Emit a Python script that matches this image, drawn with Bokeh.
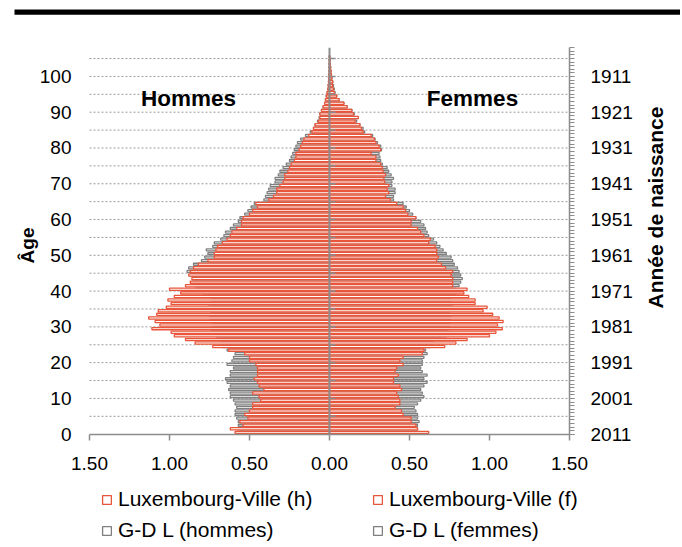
import math
from bokeh.plotting import figure
from bokeh.models import (Range1d, LinearAxis, FixedTicker, CustomJSTickFormatter,
                          Label, Legend, LegendItem, ColumnDataSource, BoxAnnotation)
from bokeh.embed import file_html
from bokeh.resources import INLINE

# ---------------- data (share of population, %) ----------------
ages = list(range(0, 106))

lv_h = [0.59, 0.62, 0.54, 0.56, 0.51, 0.53, 0.50, 0.48, 0.48, 0.43,
        0.44, 0.48, 0.41, 0.44, 0.45, 0.47, 0.45, 0.45, 0.45, 0.46,
        0.50, 0.50, 0.53, 0.63, 0.73, 0.84, 0.90, 0.97, 0.99, 1.11,
        1.06, 1.09, 1.13, 1.08, 1.07, 1.02, 0.99, 1.01, 0.97, 0.93,
        1.00, 0.90, 0.87, 0.86, 0.88, 0.87, 0.85, 0.82, 0.76, 0.72,
        0.72, 0.71, 0.70, 0.67, 0.64, 0.62, 0.61, 0.58, 0.55, 0.55,
        0.54, 0.50, 0.48, 0.45, 0.46, 0.38, 0.35, 0.33, 0.33, 0.31,
        0.29, 0.28, 0.28, 0.26, 0.25, 0.24, 0.22, 0.21, 0.21, 0.19,
        0.18, 0.17, 0.16, 0.13, 0.11, 0.10, 0.09, 0.07, 0.06, 0.06,
        0.05, 0.04, 0.03, 0.025, 0.02, 0.015, 0.01, 0.008, 0.006, 0.005,
        0.004, 0.003, 0.002, 0.002, 0.001, 0.001]

lv_f = [0.62, 0.55, 0.54, 0.51, 0.51, 0.46, 0.45, 0.41, 0.44, 0.44,
        0.43, 0.42, 0.45, 0.44, 0.40, 0.40, 0.43, 0.41, 0.42, 0.46,
        0.44, 0.46, 0.58, 0.59, 0.72, 0.79, 0.86, 1.00, 1.04, 1.08,
        1.05, 1.085, 1.06, 1.02, 0.96, 0.985, 0.91, 0.91, 0.87, 0.84,
        0.86, 0.77, 0.77, 0.77, 0.76, 0.77, 0.725, 0.70, 0.67, 0.68,
        0.67, 0.67, 0.66, 0.62, 0.63, 0.59, 0.57, 0.55, 0.51, 0.51,
        0.54, 0.49, 0.475, 0.46, 0.42, 0.38, 0.35, 0.37, 0.36, 0.37,
        0.345, 0.34, 0.35, 0.335, 0.33, 0.32, 0.29, 0.29, 0.26, 0.32,
        0.31, 0.29, 0.28, 0.26, 0.21, 0.20, 0.19, 0.16, 0.18, 0.15,
        0.14, 0.11, 0.09, 0.06, 0.045, 0.03, 0.025, 0.02, 0.02, 0.015,
        0.012, 0.01, 0.007, 0.005, 0.003, 0.002]

gdl_h = [0.58, 0.57, 0.57, 0.57, 0.58, 0.59, 0.59, 0.58, 0.59, 0.60,
         0.62, 0.62, 0.63, 0.62, 0.64, 0.65, 0.62, 0.62, 0.60, 0.64,
         0.61, 0.60, 0.59, 0.64, 0.67, 0.68, 0.70, 0.71, 0.74, 0.74,
         0.73, 0.73, 0.75, 0.75, 0.74, 0.76, 0.74, 0.74, 0.76, 0.79,
         0.83, 0.84, 0.86, 0.85, 0.87, 0.89, 0.88, 0.85, 0.80, 0.78,
         0.76, 0.77, 0.73, 0.72, 0.68, 0.66, 0.65, 0.62, 0.60, 0.57,
         0.56, 0.53, 0.51, 0.49, 0.47, 0.41, 0.40, 0.39, 0.38, 0.37,
         0.34, 0.34, 0.32, 0.31, 0.29, 0.27, 0.25, 0.24, 0.23, 0.22,
         0.21, 0.20, 0.18, 0.15, 0.12, 0.10, 0.09, 0.075, 0.065, 0.06,
         0.05, 0.04, 0.03, 0.025, 0.02, 0.015, 0.01, 0.008, 0.006, 0.005,
         0.004, 0.003, 0.002, 0.002, 0.001, 0.001]

gdl_f = [0.56, 0.55, 0.55, 0.56, 0.55, 0.55, 0.54, 0.53, 0.55, 0.57,
         0.59, 0.58, 0.57, 0.59, 0.61, 0.59, 0.61, 0.58, 0.57, 0.58,
         0.58, 0.59, 0.61, 0.60, 0.63, 0.65, 0.69, 0.73, 0.74, 0.75,
         0.75, 0.76, 0.76, 0.76, 0.75, 0.77, 0.76, 0.76, 0.80, 0.79,
         0.79, 0.81, 0.82, 0.83, 0.82, 0.81, 0.80, 0.78, 0.77, 0.76,
         0.73, 0.71, 0.69, 0.67, 0.65, 0.62, 0.61, 0.60, 0.59, 0.57,
         0.54, 0.52, 0.50, 0.48, 0.46, 0.40, 0.40, 0.41, 0.41, 0.39,
         0.39, 0.40, 0.385, 0.37, 0.36, 0.33, 0.32, 0.315, 0.31, 0.325,
         0.32, 0.30, 0.285, 0.27, 0.22, 0.21, 0.19, 0.17, 0.18, 0.155,
         0.14, 0.11, 0.09, 0.06, 0.045, 0.035, 0.03, 0.025, 0.02, 0.015,
         0.012, 0.01, 0.007, 0.005, 0.003, 0.002]

x_ticks = [-1.5, -1.0, -0.5, 0.0, 0.5, 1.0, 1.5]
age_ticks = list(range(0, 101, 10))
grid_ages = list(range(5, 106, 5))
ref_year = 2011
birth_ticks = [ref_year - a for a in age_ticks]

series_labels = ["Luxembourg-Ville (h)", "Luxembourg-Ville (f)", "G-D L (hommes)", "G-D L (femmes)"]

# ---------------- geometry / styling ----------------
W, H = 680, 545
X_MIN, X_MAX = -1.5, 1.5          # plotted value range
Y_MIN, Y_TOP = 0, 108             # plotted age range
PX_LEFT, PX_RIGHT = 89, 569       # pixel span of the value range
PY_BOTTOM, PY_TOP = 433.7, 47.3   # pixel span of the age range

sx = (PX_RIGHT - PX_LEFT) / (X_MAX - X_MIN)
sy = (PY_BOTTOM - PY_TOP) / (Y_TOP - Y_MIN)
def vx(px):  # pixel -> data x
    return X_MIN + (px - PX_LEFT) / sx
def vy(py):  # pixel -> data y
    return Y_MIN + (PY_BOTTOM - py) / sy

RED = "#E8553A"
GREY = "#7F7F7F"
AXIS = "#8C8C8C"
FONT = "Liberation Sans"

p = figure(width=W, height=H, x_range=Range1d(vx(0), vx(W)), y_range=Range1d(vy(H), vy(0)),
           output_backend="svg", toolbar_location=None, min_border=0)
p.title.visible = False
p.outline_line_color = None
p.xgrid.visible = False
p.ygrid.visible = False

# dotted horizontal grid
p.segment(x0=[X_MIN] * len(grid_ages), x1=[X_MAX] * len(grid_ages), y0=grid_ages, y1=grid_ages,
          line_color="#9A9A9A", line_dash="2 2", line_width=1)

def src(vals, sign):
    return ColumnDataSource(dict(
        y=[a + 0.5 for a in ages],
        left=[min(0, sign * v) for v in vals],
        right=[max(0, sign * v) for v in vals]))

grey_style = dict(y="y", left="left", right="right", height=0.56, fill_color="white", line_width=1.3)
red_style = dict(y="y", left="left", right="right", height=0.62, fill_color="white", line_width=1.3)
r_gh = p.hbar(source=src(gdl_h, -1), line_color=GREY, **grey_style)
r_gf = p.hbar(source=src(gdl_f, 1), line_color=GREY, **grey_style)
r_lh = p.hbar(source=src(lv_h, -1), line_color=RED, **red_style)
r_lf = p.hbar(source=src(lv_f, 1), line_color=RED, **red_style)

# central vertical axis with small ticks
p.segment(x0=[0], x1=[0], y0=[Y_MIN], y1=[Y_TOP], line_color=AXIS, line_width=2)
p.segment(x0=[0] * len(grid_ages), x1=[6 / sx] * len(grid_ages), y0=grid_ages, y1=grid_ages,
          line_color=AXIS, line_width=1.5)

# bottom axis
xa = p.xaxis[0]
xa.fixed_location = Y_MIN
xa.bounds = (X_MIN, X_MAX)
xa.ticker = FixedTicker(ticks=x_ticks)
xa.formatter = CustomJSTickFormatter(code="return Math.abs(tick).toFixed(2);")
xa.axis_line_color = AXIS
xa.axis_line_width = 1.5
xa.major_tick_line_color = AXIS
xa.major_tick_line_width = 1.5
xa.major_tick_out = 6
xa.major_tick_in = 0
xa.minor_tick_line_color = None
xa.major_label_standoff = 17
xa.major_label_text_font = FONT
xa.major_label_text_font_size = "19px"
xa.major_label_text_color = "#000000"

# left axis (age)
ya = p.yaxis[0]
ya.fixed_location = X_MIN
ya.bounds = (Y_MIN, Y_TOP)
ya.ticker = FixedTicker(ticks=age_ticks)
ya.axis_line_color = None
ya.major_tick_line_color = None
ya.minor_tick_line_color = None
ya.major_tick_out = 0
ya.major_label_standoff = 18
ya.major_label_text_font = FONT
ya.major_label_text_font_size = "19px"
ya.major_label_text_color = "#000000"

# right axis (birth year)
p.extra_y_ranges = {"birth": Range1d(start=ref_year - vy(H), end=ref_year - vy(0))}
ra = LinearAxis(y_range_name="birth", fixed_location=X_MAX,
                bounds=(ref_year - Y_TOP, ref_year - Y_MIN))
ra.ticker = FixedTicker(ticks=birth_ticks, minor_ticks=list(range(ref_year - Y_TOP, ref_year + 1)))
ra.axis_line_color = AXIS
ra.axis_line_width = 1.5
ra.major_tick_line_color = AXIS
ra.minor_tick_line_color = AXIS
ra.major_tick_out = 5
ra.major_tick_in = 0
ra.minor_tick_out = 5
ra.minor_tick_in = 0
ra.major_label_standoff = 16
ra.major_label_text_font = FONT
ra.major_label_text_font_size = "19px"
ra.major_label_text_color = "#000000"
p.add_layout(ra, "right")

# axis titles (rotated, reading upwards)
p.add_layout(Label(x=vx(27), y=vy(245), text="Âge", angle=math.pi / 2,
                   text_align="center", text_baseline="middle", text_font=FONT,
                   text_font_size="19px", text_font_style="bold", text_color="#000000"))
p.add_layout(Label(x=vx(655), y=vy(207), text="Année de naissance", angle=math.pi / 2,
                   text_align="center", text_baseline="middle", text_font=FONT,
                   text_font_size="21px", text_font_style="bold", text_color="#000000"))

# side titles
for txt, cx in (("Hommes", 188), ("Femmes", 472)):
    p.add_layout(Label(x=vx(cx), y=vy(98), text=txt, text_align="center", text_baseline="middle",
                       text_font=FONT, text_font_size="22.5px", text_font_style="bold",
                       text_color="#000000"))

# thick black rule at the top
p.add_layout(BoxAnnotation(left=vx(14), right=vx(W), top=vy(9), bottom=vy(14.3),
                           fill_color="black", fill_alpha=1, line_color=None))

legend = Legend(items=[LegendItem(label=series_labels[0], renderers=[r_lh]),
                       LegendItem(label=series_labels[1], renderers=[r_lf]),
                       LegendItem(label=series_labels[2], renderers=[r_gh]),
                       LegendItem(label=series_labels[3], renderers=[r_gf])],
                location=(101, 3), orientation="horizontal", ncols=2,
                glyph_width=11, glyph_height=11, label_standoff=6, label_width=247,
                label_height=20, spacing=7, padding=0, margin=0,
                label_text_font=FONT, label_text_font_size="21px", label_text_color="#000000",
                border_line_color=None, background_fill_alpha=0)
p.add_layout(legend, "center")

open("out.html", "w").write(file_html(p, INLINE))
